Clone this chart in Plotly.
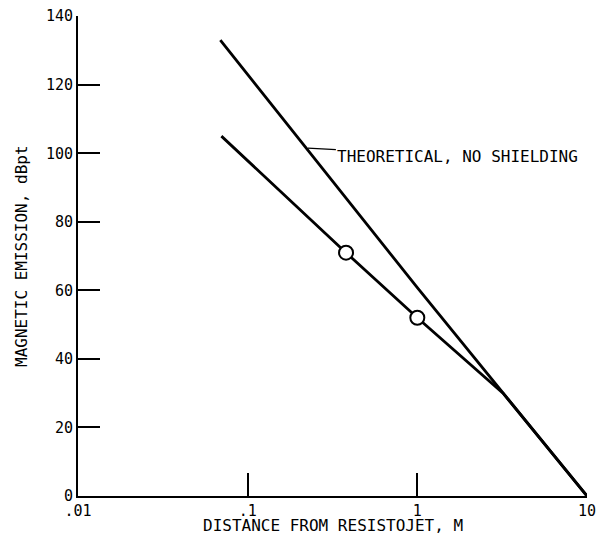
import plotly.graph_objects as go

# Data
theory_x = [0.069, 1.0, 10.0]
theory_y = [133.0, 60.8, 0.0]

meas_line_x = [0.070, 0.38, 1.0, 3.2, 10.0]
meas_line_y = [105.0, 71.0, 52.0, 30.0, 0.0]

meas_pts_x = [0.38, 1.0]
meas_pts_y = [71.0, 52.0]

x_tickvals = [0.01, 0.1, 1, 10]
x_ticktext = [".01", ".1", "1", "10"]
y_tickvals = [0, 20, 40, 60, 80, 100, 120, 140]

FONT = "DejaVu Sans Mono"

fig = go.Figure()
fig.add_trace(go.Scatter(x=theory_x, y=theory_y, mode="lines",
                         line=dict(color="black", width=2.8), showlegend=False))
fig.add_trace(go.Scatter(x=meas_line_x, y=meas_line_y, mode="lines",
                         line=dict(color="black", width=2.8), showlegend=False))
fig.add_trace(go.Scatter(x=meas_pts_x, y=meas_pts_y, mode="markers",
                         marker=dict(symbol="circle", size=14, color="white",
                                     line=dict(color="black", width=2)),
                         showlegend=False, cliponaxis=False))

fig.add_annotation(x=-0.645, y=101.5, xref="x", yref="y",
                   text="THEORETICAL, NO SHIELDING", showarrow=True,
                   arrowhead=0, arrowwidth=1.2, arrowcolor="black",
                   ax=150, ay=8, xanchor="center", yanchor="middle",
                   font=dict(family=FONT, size=16, color="black"))

# axis titles as annotations for exact placement
fig.add_annotation(x=0.5, y=0, xref="paper", yref="paper", yshift=-29,
                   xanchor="center", yanchor="middle",
                   text="DISTANCE FROM RESISTOJET, M", showarrow=False,
                   font=dict(family=FONT, size=16, color="black"))
fig.add_annotation(x=0, y=0.5, xref="paper", yref="paper", xshift=-57,
                   xanchor="center", yanchor="middle",
                   text="MAGNETIC EMISSION, dBpt", showarrow=False, textangle=-90,
                   font=dict(family=FONT, size=16, color="black"))

fig.update_layout(
    width=600, height=547,
    margin=dict(l=78, r=13, t=16, b=51),
    paper_bgcolor="white", plot_bgcolor="white",
    font=dict(family=FONT, size=15, color="black"),
    xaxis=dict(type="log", range=[-2, 1.0001], tickvals=x_tickvals, ticktext=x_ticktext,
               ticks="inside", ticklen=23, tickwidth=2, tickcolor="black",
               showline=True, linecolor="black", linewidth=2, mirror=False,
               showgrid=False, zeroline=False, automargin=False,
               ticklabeloverflow="allow"),
    yaxis=dict(range=[0, 140.05], tickvals=y_tickvals,
               ticks="inside", ticklen=22, tickwidth=2, tickcolor="black",
               showline=True, linecolor="black", linewidth=2, mirror=False,
               showgrid=False, zeroline=False, automargin=False,
               ticklabeloverflow="allow"),
)

fig.write_html("out.html", config={"displayModeBar": False},
               post_script="document.body.style.margin='0';document.body.style.overflow='hidden';")
